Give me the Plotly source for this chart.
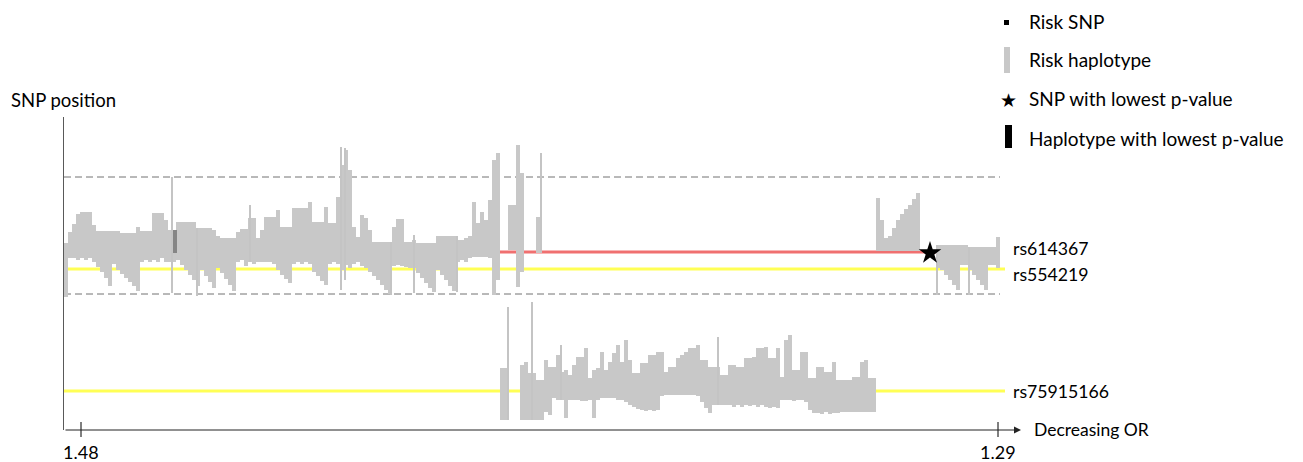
import plotly.graph_objects as go

# ---------------- data ----------------
# x = haplotype rank (ordered by decreasing OR), y = SNP position (arbitrary units)
top_rank = list(range(0, 109)) + [111, 112, 113, 114, 118] + list(range(203, 214)) + list(range(218, 234))
top_hi = [187,198,206,216,218,218,218,205,199,199,
          199,199,199,199,197,197,197,197,203,199,
          199,199,217,217,217,210,200,200,208,208,
          208,208,208,202,202,202,202,200,194,192,
          192,192,192,198,201,201,212,212,192,200,
          213,213,213,220,203,203,203,222,222,222,
          222,228,208,208,208,223,207,207,233,265,
          280,260,203,193,215,212,200,188,188,188,
          188,188,203,211,211,188,188,190,187,187,
          187,187,187,194,194,194,194,194,190,190,
          192,194,228,207,218,210,230,270,277,
          225,225,285,257,213,
          232,210,192,194,202,210,216,221,225,231,237,
          185,185,185,185,185,185,185,185,183,183,183,183,183,183,183,193]
top_lo = [133,172,172,170,172,170,172,168,163,158,
          152,144,166,160,156,152,148,144,139,168,
          170,168,170,168,172,168,168,168,170,165,
          160,155,150,144,160,154,148,142,162,157,
          151,145,139,168,170,164,168,166,168,168,
          168,168,166,160,155,151,147,166,168,166,
          168,166,158,154,149,145,166,168,166,160,
          165,162,166,168,164,162,158,154,150,145,
          140,136,164,165,164,163,162,162,157,152,
          147,142,138,160,155,150,144,139,168,170,
          168,172,173,173,173,173,172,135,150,
          180,180,143,158,177,
          179,179,179,179,179,179,179,179,179,179,179,
          162,160,155,150,145,140,165,165,160,155,150,145,140,165,165,162]

bot_rank = [109, 110] + list(range(114, 203))
bot_hi = [62,62,
          65,68,57,57,50,50,
          70,63,63,75,58,60,55,65,73,73,
          82,52,60,62,78,60,68,77,85,68,
          90,70,57,57,67,67,75,75,78,78,
          58,63,63,72,75,78,82,82,85,70,
          70,63,63,63,55,55,65,65,63,63,
          72,72,73,82,82,83,72,72,82,53,
          90,95,60,60,78,78,52,52,63,63,
          58,58,68,50,50,50,50,53,53,68,
          70,52,52]
bot_lo = [10,10,
          10,10,10,10,10,10,
          18,15,32,30,30,12,30,30,30,29,
          29,30,12,30,32,32,32,32,30,30,
          28,25,23,21,20,19,20,19,20,34,
          35,35,35,35,35,35,35,35,34,28,
          22,17,25,25,25,25,25,23,25,23,
          25,24,25,23,25,23,22,23,22,30,
          30,30,29,30,30,28,20,17,17,16,
          18,16,17,17,18,18,18,18,18,18,
          18,18,18]

# single haplotypes drawn as thin lines
thin_rank = [26.5, 32.75, 46.0, 68.75, 69.75, 81.25, 87.0, 97.75, 118.75, 217.75, 225.75,
             110.5, 116.5, 123.75, 163.0]
thin_hi = [253, 202, 225, 283, 282, 188, 195, 194, 277, 185, 183, 123, 128, 85, 93]
thin_lo = [137, 134, 168, 140, 150, 135, 137, 138, 177, 135, 135, 10, 10, 30, 25]

best_hap_rank = [27.25]
best_hap_hi = [200]
best_hap_lo = [177]

snp_names = ["rs614367", "rs554219", "rs75915166"]
snp_pos = [178, 161, 39]
snp_colors = ["#f07070", "#ffff55", "#ffff55"]
snp_end = [233.5, 234.75, 234.75]

locus_bounds = [253, 136]

best_snp_rank = [216]
best_snp_pos = [177]

or_ticks_rank = [3.75, 233]
or_ticks_text = ["1.48", "1.29"]

X0, X1 = -0.5, 238.75
Y0, Y1 = 0, 313

FONT = "Lato"
GRAY = "#c8c8c8"

fig = go.Figure()

fig.add_trace(go.Bar(x=top_rank, y=[h - l for h, l in zip(top_hi, top_lo)], base=top_lo,
                     width=1.0, marker=dict(color=GRAY, line=dict(width=0)), showlegend=False))
fig.add_trace(go.Bar(x=bot_rank, y=[h - l for h, l in zip(bot_hi, bot_lo)], base=bot_lo,
                     width=1.0, marker=dict(color=GRAY, line=dict(width=0)), showlegend=False))
fig.add_trace(go.Bar(x=thin_rank, y=[h - l for h, l in zip(thin_hi, thin_lo)], base=thin_lo,
                     width=0.4, marker=dict(color="#c4c4c4", line=dict(width=0)), showlegend=False))
fig.add_trace(go.Bar(x=best_hap_rank, y=[h - l for h, l in zip(best_hap_hi, best_hap_lo)], base=best_hap_lo,
                     width=0.9, marker=dict(color="#858585", line=dict(width=0)), showlegend=False))

fig.add_trace(go.Scatter(x=best_snp_rank, y=best_snp_pos, mode="markers",
                         marker=dict(symbol="star", size=17, color="black", line=dict(width=0)),
                         showlegend=False, cliponaxis=False))

shapes = []
for pos, col, xe in zip(snp_pos, snp_colors, snp_end):
    shapes.append(dict(type="line", xref="x", yref="y", x0=X0, x1=xe, y0=pos, y1=pos,
                       line=dict(color=col, width=3), layer="below"))
for b in locus_bounds:
    shapes.append(dict(type="line", xref="x", yref="y", x0=X0, x1=233.5, y0=b, y1=b,
                       line=dict(color="#737373", width=1, dash="7px,4px"), layer="below"))

def px(xp):
    return (xp - 64) / (1021 - 64)

def py(yp):
    return (430 - yp) / (430 - 117)

for t in or_ticks_rank:
    shapes.append(dict(type="line", xref="x", yref="paper", x0=t, x1=t, y0=py(437), y1=py(422),
                       line=dict(color="black", width=1)))

# legend symbols
shapes.append(dict(type="rect", xref="paper", yref="paper", x0=px(1004), x1=px(1009), y0=py(25), y1=py(20),
                   fillcolor="black", line=dict(width=0)))
shapes.append(dict(type="rect", xref="paper", yref="paper", x0=px(1004), x1=px(1010), y0=py(73), y1=py(47),
                   fillcolor=GRAY, line=dict(width=0)))
shapes.append(dict(type="rect", xref="paper", yref="paper", x0=px(1005), x1=px(1012), y0=py(148), y1=py(125),
                   fillcolor="black", line=dict(width=0)))

annotations = []
# x axis with arrow
annotations.append(dict(x=X1, y=0, ax=X0, ay=0, xref="x", yref="y", axref="x", ayref="y",
                        text="", showarrow=True, arrowhead=2, arrowsize=1.4, arrowwidth=1,
                        arrowcolor="#222222"))
for t, lab in zip(or_ticks_rank, or_ticks_text):
    annotations.append(dict(x=t, y=py(452), xref="x", yref="paper", text=lab, showarrow=False,
                            xanchor="center", yanchor="middle", font=dict(family=FONT, size=18, color="black")))
annotations.append(dict(x=px(1032), y=py(429), xref="paper", yref="paper", text="Decreasing OR",
                        showarrow=False, xanchor="left", yanchor="middle",
                        font=dict(family=FONT, size=17.5, color="black")))
annotations.append(dict(x=px(9), y=py(100), xref="paper", yref="paper", text="SNP position",
                        showarrow=False, xanchor="left", yanchor="middle",
                        font=dict(family=FONT, size=18.5, color="black")))
label_y = [248, 274, 391]
for name, ly in zip(snp_names, label_y):
    annotations.append(dict(x=px(1011), y=py(ly), xref="paper", yref="paper", text=name,
                            showarrow=False, xanchor="left", yanchor="middle",
                            font=dict(family=FONT, size=17.7, color="black")))
leg_text = ["Risk SNP", "Risk haplotype", "SNP with lowest p-value", "Haplotype with lowest p-value"]
leg_y = [21, 60, 99, 138]
for txt, ly in zip(leg_text, leg_y):
    annotations.append(dict(x=px(1027), y=py(ly), xref="paper", yref="paper", text=txt,
                            showarrow=False, xanchor="left", yanchor="middle",
                            font=dict(family=FONT, size=19, color="black")))
annotations.append(dict(x=px(1008), y=py(100), xref="paper", yref="paper", text="★",
                        showarrow=False, xanchor="center", yanchor="middle",
                        font=dict(family="DejaVu Sans", size=19, color="black")))

fig.update_layout(
    width=1303, height=462,
    margin=dict(l=64, r=1303 - 1021, t=117, b=32),
    paper_bgcolor="white", plot_bgcolor="white",
    barmode="overlay", bargap=0,
    shapes=shapes, annotations=annotations,
    xaxis=dict(range=[X0, X1], showgrid=False, zeroline=False, showticklabels=False,
               ticks="", showline=False, fixedrange=True),
    yaxis=dict(range=[Y0, Y1], showgrid=False, zeroline=False, showticklabels=False,
               ticks="", showline=True, linecolor="#595959", linewidth=1, fixedrange=True),
)

fig.write_html("out.html")
